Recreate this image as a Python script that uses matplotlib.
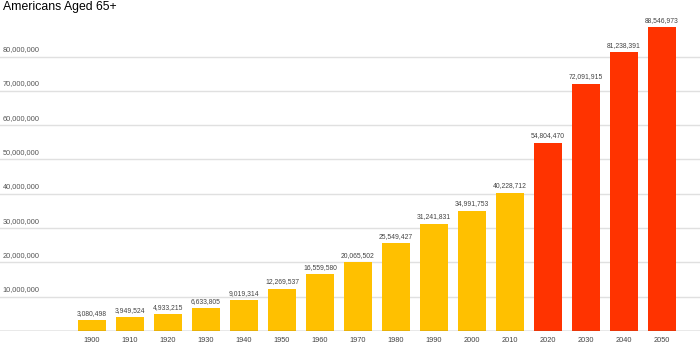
import matplotlib
matplotlib.use("Agg")
import matplotlib.pyplot as plt

plt.rcParams["font.family"] = ["Liberation Sans", "DejaVu Sans"]

years = ["1900", "1910", "1920", "1930", "1940", "1950", "1960", "1970",
         "1980", "1990", "2000", "2010", "2020", "2030", "2040", "2050"]
population = [3080498, 3949524, 4933215, 6633805, 9019314, 12269537,
              16559580, 20065502, 25549427, 31241831, 34991753, 40228712,
              54804470, 72091915, 81238391, 88546973]
first_projected = "2020"
y_ticks = [10000000, 20000000, 30000000, 40000000, 50000000,
           60000000, 70000000, 80000000]

HIST_COLOR = "#FFC000"
PROJ_COLOR = "#FF3300"

fig = plt.figure(figsize=(7.0, 3.48), dpi=100)
ax = fig.add_axes([0.0, 0.0489, 1.0, 0.887])

split = years.index(first_projected)
colors = [HIST_COLOR if i < split else PROJ_COLOR for i in range(len(years))]
x = list(range(len(years)))
ax.bar(x, population, width=0.76, color=colors, zorder=3)

ax.set_xlim(-2.42, 16.0)
ax.set_ylim(0, 90000000)

# horizontal gridlines with labels sitting above each line
for v in y_ticks:
    ax.axhline(v, color="#e0e0e0", linewidth=1.0, zorder=1)
    ax.annotate(f"{v:,}", xy=(0.004, v), xycoords=("axes fraction", "data"),
                xytext=(0, 2.5), textcoords="offset points",
                ha="left", va="bottom", fontsize=5.3, color="#555555")

ax.axhline(0, color="#555555", linewidth=0.9, zorder=4)

# value labels above each bar
for xi, v in zip(x, population):
    ax.annotate(f"{v:,}", xy=(xi, v), xytext=(0, 2.5),
                textcoords="offset points", ha="center", va="bottom",
                fontsize=4.9, color="#444444")

ax.set_xticks(x)
ax.set_xticklabels(years, fontsize=5.3, color="#444444")
ax.tick_params(axis="x", length=0, pad=4)
ax.set_yticks([])
for s in ax.spines.values():
    s.set_visible(False)

fig.text(0.004, 0.997, "Americans Aged 65+", ha="left", va="top",
         fontsize=8.8, color="#000000")

fig.savefig("out.png", dpi=100, facecolor="white")
